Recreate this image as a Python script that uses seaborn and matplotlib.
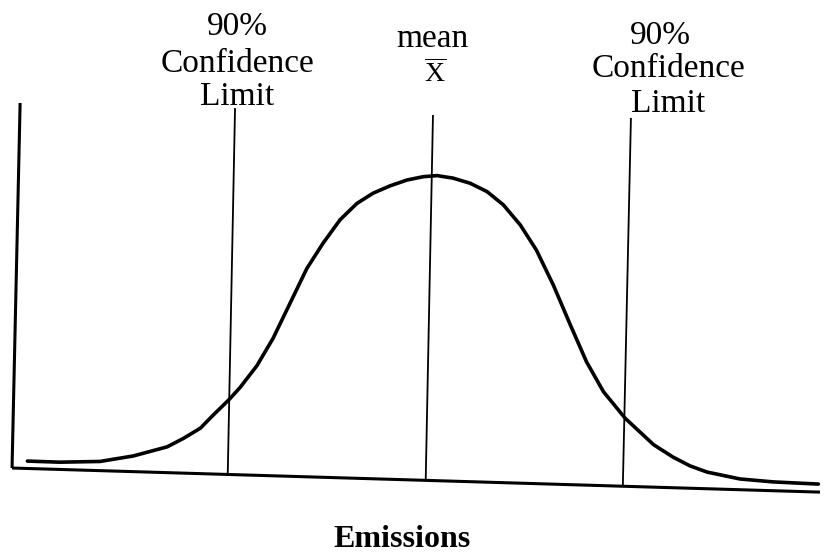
import matplotlib
matplotlib.use("Agg")
import matplotlib.pyplot as plt
import seaborn as sns
import pandas as pd

# emissions (arbitrary units, 0-100) and frequency
emissions = [1.9, 5.9, 10.9, 15.0, 19.2, 21.2, 23.3, 24.9, 26.8, 28.2, 30.3,
             32.3, 34.4, 36.5, 38.5, 40.6, 42.7, 44.7, 46.8, 48.9, 50.9, 52.6,
             54.6, 56.7, 58.8, 60.8, 62.9, 64.9, 67.0, 69.1, 71.1, 73.2, 75.9,
             79.4, 81.8, 83.9, 86.0, 90.1, 94.2, 99.8]
frequency = [1.9, 1.6, 1.8, 3.3, 5.8, 8.1, 10.9, 14.5, 18.6, 22.0, 28.0,
             35.5, 45.1, 54.7, 61.6, 68.0, 72.5, 75.3, 77.3, 78.9, 79.8, 80.1,
             79.4, 78.0, 75.7, 72.1, 66.6, 59.7, 50.1, 39.2, 29.1, 20.9, 13.6,
             6.4, 3.0, 0.6, -1.1, -3.0, -3.8, -4.4]

# hand drawn reference lines: (x_top, y_top, x_bottom, y_bottom)
lower_limit = [27.6, 98.6, 26.7, -1.4]
mean_line = [52.1, 96.7, 51.2, -3.3]
upper_limit = [76.6, 95.9, 75.6, -4.7]

# axes of the sketch (the scan is a little skewed)
y_axis = [1.0, 100.0, 0.0, 0.0]
x_axis = [0.0, 0.0, 100.0, -6.6]

limit_label = ["90%", "Confidence", "Limit"]
mean_label = ["mean", r"$\overline{\mathrm{X}}$"]
x_label = "Emissions"

sns.set_style("white")
plt.rcParams["font.family"] = ["Liberation Serif", "DejaVu Serif"]
plt.rcParams["text.color"] = "black"
plt.rcParams["mathtext.fontset"] = "custom"
plt.rcParams["mathtext.rm"] = "Liberation Serif"

fig = plt.figure(figsize=(8.25, 5.56), dpi=100)
ax = fig.add_axes([0, 0, 1, 1])

df = pd.DataFrame({"emissions": emissions, "frequency": frequency})
sns.lineplot(data=df, x="emissions", y="frequency", color="black",
             linewidth=2.6, estimator=None, ax=ax)

for seg, lw in [(lower_limit, 1.3), (mean_line, 1.3), (upper_limit, 1.3),
                (y_axis, 2.2), (x_axis, 2.2)]:
    ax.plot([seg[0], seg[2]], [seg[1], seg[3]], color="black", linewidth=lw,
            solid_capstyle="butt")

fs = 24
# left limit label
for txt, yb in zip(limit_label, [118.6, 108.5, 99.4]):
    ax.text(27.9, yb, txt, ha="center", va="baseline", fontsize=fs)
# right limit label
for txt, yb, xc in zip(limit_label, [116.2, 107.1, 97.5], [80.3, 81.2, 81.2]):
    ax.text(xc, yb, txt, ha="center", va="baseline", fontsize=fs)
# mean label
ax.text(52.0, 115.3, mean_label[0], ha="center", va="baseline", fontsize=fs)
ax.text(52.4, 105.8, mean_label[1], ha="center", va="baseline", fontsize=20)

ax.text(48.3, -21.6, x_label, ha="center", va="baseline", fontsize=23,
        fontweight="bold")

ax.set_xlim(-1.49, 100.62)
ax.set_ylim(-24.1, 128.2)
ax.set_axis_off()

fig.savefig("out.png", dpi=100)
